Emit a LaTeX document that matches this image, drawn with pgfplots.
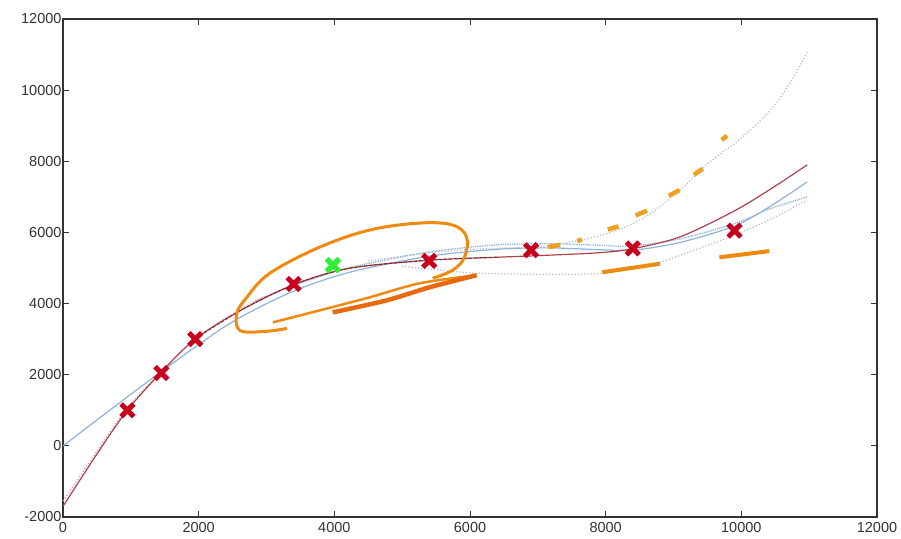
\documentclass[border=0pt]{standalone}
\usepackage{fontspec}
\setmainfont{Liberation Sans}
\usepackage{pgfplots}
\pgfplotsset{compat=1.18}
\definecolor{fitred}{HTML}{B0404A}
\definecolor{fitblue}{HTML}{8FB2D9}
\definecolor{crossred}{HTML}{C8001E}
\definecolor{crossgreen}{HTML}{33EE33}
\definecolor{pen}{HTML}{EE8A10}
\definecolor{pendark}{HTML}{E86A10}
\definecolor{pendot}{HTML}{F0A020}
\definecolor{dotgrey}{HTML}{B8B8C8}
\definecolor{axisgrey}{HTML}{333333}

\begin{document}
\begin{tikzpicture}
\path[use as bounding box] (-63pt,-21pt) rectangle (838pt,517pt);
\begin{axis}[
    scale only axis,
    width=814pt, height=498pt,
    xmin=0, xmax=12000, ymin=-2000, ymax=12000,
    xtick={0,2000,...,12000}, ytick={-2000,0,...,12000},
    tick align=inside, xtick pos=both, ytick pos=both,
    major tick length=6pt,
    axis line style={draw=axisgrey, line width=1.4pt},
    tick style={draw=axisgrey, line width=1pt},
    ticklabel style={font=\fontsize{14.5}{16}\selectfont, text=axisgrey},
    yticklabel style={xshift=2pt},
    xticklabel style={yshift=-2pt},
    /pgf/number format/assume math mode=true,
    /pgf/number format/1000 sep={},
    scaled ticks=false,
    clip=false,
]
% grey dotted fits
\addplot[dotgrey, dotted, line width=1.2pt, smooth] coordinates {
 (4500,5200) (5500,5450) (6300,5550) (7025,5600) (7650,5790) (8150,6050) (8600,6450)
 (9100,7200) (9550,8000) (9971,8606) (10412,9396) (10700,10150) (10972,11061)};
\addplot[dotgrey, dotted, line width=1.2pt, smooth] coordinates {
 (5000,5050) (5600,4930) (6141,4850) (7025,4825) (7909,4850) (8645,5080)
 (9234,5450) (9823,5870) (10412,6350) (10972,6910)};
\addplot[fitblue, densely dotted, line width=1.3pt, smooth] coordinates {
 (2800,4050) (3400,4500) (4200,5000) (5400,5450) (6400,5650) (7200,5680)
 (7900,5640) (8400,5620) (9100,5820) (9900,6250) (10400,6650) (10972,7000)};
\addplot[fitred!50, dotted, line width=1.2pt, smooth] coordinates {
 (0,-1550) (500,-150) (943,1050) (1443,2080) (1959,3020) (2650,3880) (3417,4540)
 (4227,5000) (5405,5230)};
% fitted curves
\addplot[fitblue, line width=1.2pt, smooth] coordinates {
 (0,0) (1000,1450) (2000,2850) (2600,3600) (3400,4350) (4227,4881)
 (5405,5333) (6436,5530) (7172,5565) (7909,5515) (8400,5500) (9100,5720)
 (9897,6180) (10412,6716) (10972,7421)};
\addplot[fitred, line width=1.2pt, smooth] coordinates {
 (0,-1700) (500,-230) (943,988) (1443,2060) (1959,3019) (2650,3840) (3417,4543)
 (4227,4994) (5405,5220) (6436,5305) (7172,5361) (7909,5430) (8395,5540)
 (9087,5869) (9867,6574) (10412,7195) (10972,7901)};
\addplot[fitred!60!black, densely dashed, line width=0.8pt, smooth] coordinates {
 (1959,3019) (2650,3840) (3417,4543) (4227,4994) (5405,5220) (6436,5305)};
% data points
\addplot[only marks, mark=x, mark size=9pt, line width=5pt, crossred] coordinates {
 (950,1000) (1450,2050) (1950,3000) (3400,4550) (5400,5200) (6900,5500) (8400,5550) (9900,6050)};
\addplot[only marks, mark=x, mark size=9pt, line width=5.5pt, crossgreen] coordinates {(3980,5080)};
% hand-drawn annotations
\addplot[pen, line width=3pt, smooth, tension=0.6] coordinates {
 (3300,3300) (2975,3217) (2607,3245) (2563,3725) (2710,4176) (3049,4853) (3785,5587)
 (4521,6067) (5258,6264) (5744,6208) (5950,5869) (5920,5305) (5744,4938) (5449,4712)};
\addplot[pen, line width=2.5pt, smooth] coordinates {
 (3093,3471) (3785,3809) (4521,4176) (5258,4571) (6097,4797)};
\addplot[pendark, line width=4.5pt, smooth] coordinates {
 (3976,3753) (4772,4091) (5405,4458) (6097,4797)};
\addplot[pen, line width=4pt] coordinates {(7950,4880) (8800,5120)};
\addplot[pen, line width=4pt] coordinates {(9676,5300) (10412,5474)};
\addplot[pendot, line width=4.5pt] coordinates {(7150,5590) (7330,5650)};
\addplot[pendot, line width=4.5pt] coordinates {(7580,5760) (7650,5800)};
\addplot[pendot, line width=4.5pt] coordinates {(8030,6080) (8190,6170)};
\addplot[pendot, line width=4.5pt] coordinates {(8440,6480) (8610,6610)};
\addplot[pendot, line width=4.5pt] coordinates {(8930,7030) (9090,7190)};
\addplot[pendot, line width=4.5pt] coordinates {(9300,7620) (9430,7790)};
\addplot[pendot, line width=4.5pt] coordinates {(9710,8600) (9790,8720)};
\end{axis}
\end{tikzpicture}
\end{document}
